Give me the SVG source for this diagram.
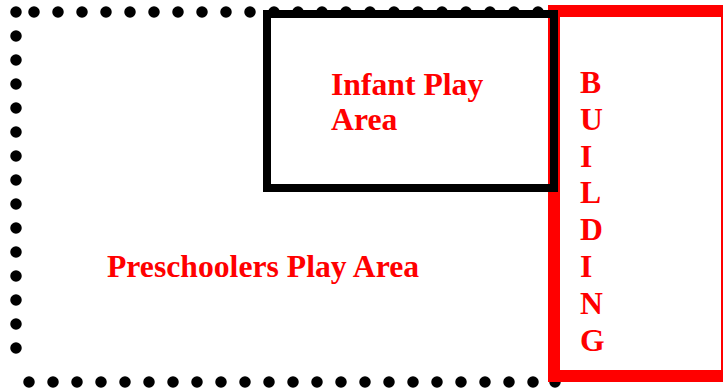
<svg xmlns="http://www.w3.org/2000/svg" width="723" height="389" viewBox="0 0 723 389">
  <style>
    .lbl { font-family: "Liberation Serif", "Times New Roman", serif; font-weight: bold; font-size: 31.7px; fill: #ff0000; }
    .dots { fill: none; stroke: #000; stroke-width: 11.5; stroke-linecap: round; stroke-dasharray: 0 24; }
  </style>
  <rect width="723" height="389" fill="#fff"/>
  <g id="preschoolers-play-area">
    <path class="dots" d="M16 12 V372"/>
    <path class="dots" d="M34 12 H540"/>
    <path class="dots" d="M29 382 H535"/>
    <circle cx="555" cy="382" r="5.75" fill="#000"/>
    <text class="lbl" x="107" y="277">Preschoolers Play Area</text>
  </g>
  <g id="building">
    <rect x="554" y="11" width="173" height="365" fill="none" stroke="#ff0000" stroke-width="12"/>
    <text class="lbl" x="580">
      <tspan x="580" y="93">B</tspan>
      <tspan x="580" y="130">U</tspan>
      <tspan x="580" y="167">I</tspan>
      <tspan x="580" y="203">L</tspan>
      <tspan x="580" y="240">D</tspan>
      <tspan x="580" y="277">I</tspan>
      <tspan x="580" y="314">N</tspan>
      <tspan x="580" y="351">G</tspan>
    </text>
  </g>
  <g id="infant-play-area">
    <rect x="267" y="14" width="287" height="174" fill="none" stroke="#000" stroke-width="8"/>
    <text class="lbl" x="331" y="95">Infant Play</text>
    <text class="lbl" x="331" y="130">Area</text>
  </g>
</svg>
